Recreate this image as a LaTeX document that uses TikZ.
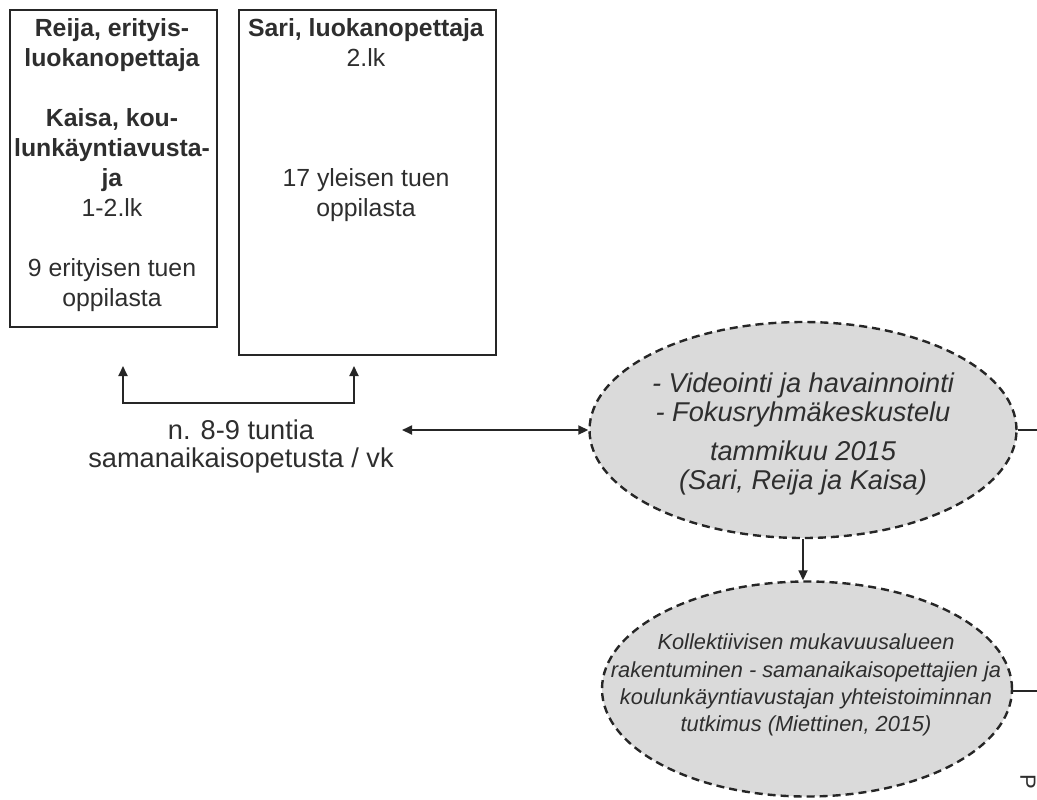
\documentclass[tikz,border=0pt]{standalone}
\usepackage{fontspec}
\setmainfont{Liberation Sans}
\usetikzlibrary{arrows.meta,shapes.geometric}
\definecolor{txt}{HTML}{2E2E2E}
\definecolor{ellfill}{HTML}{DADADA}
\begin{document}
\begin{tikzpicture}[x=0.5pt,y=-0.5pt,
  box/.style={draw=black!85, line width=1pt, inner sep=0pt},
  boxtxt/.style={align=center, inner sep=0pt, text=txt, font=\fontsize{12.4}{15}\selectfont},
  lbl/.style={align=center, inner sep=0pt, text=txt, font=\fontsize{13.6}{14}\selectfont},
  ell/.style={ellipse, draw=black!85, fill=ellfill, line width=1.2pt, dash pattern=on 4pt off 2.5pt, inner sep=0pt},
  elltxt/.style={align=center, inner sep=0pt, text=txt},
  conn/.style={draw=black!85, line width=0.9pt},
  tip/.style={-{Triangle[length=5pt,width=4.5pt]}},
  dtip/.style={{Triangle[length=5pt,width=4.5pt]}-{Triangle[length=5pt,width=4.5pt]}}
]
\useasboundingbox (0,0) rectangle (1037,799);

% boxes
\node[box, minimum width=103.5pt, minimum height=158.5pt, anchor=north west] (reija) at (9,9) {};
\node[box, minimum width=128.5pt, minimum height=172.5pt, anchor=north west] (sari) at (238,9) {};

\node[boxtxt, anchor=north] (reijat) at (112,18)
  {\textbf{Reija, erityis-}\\\textbf{luokanopettaja}\\[15pt]\textbf{Kaisa, kou-}\\\textbf{lunkäyntiavusta-}\\\textbf{ja}\\1-2.lk\\[15pt]9 erityisen tuen\\oppilasta};
\node[boxtxt, anchor=north] (sarit) at (366,18)
  {\textbf{Sari, luokanopettaja}\\2.lk\\[45pt]17 yleisen tuen\\oppilasta};

% bracket with arrows
\coordinate (blt) at (123,366);
\coordinate (bl) at (123,403);
\coordinate (br) at (354,403);
\coordinate (brt) at (354,366);
\draw[conn, dtip] (blt) -- (bl) -- (br) -- (brt);

\node[lbl] (hours) at (241,446) {n. 8-9 tuntia\\samanaikaisopetusta / vk};

% ellipses
\node[ell, minimum width=213.5pt, minimum height=108pt] (vid) at (803,430) {};
\node[elltxt, font=\fontsize{13.6}{14.8}\selectfont\itshape] (vidt) at (803,434)
  {- Videointi ja havainnointi\\- Fokusryhmäkeskustelu\\[4.5pt]tammikuu 2015\\(Sari, Reija ja Kaisa)};

\node[ell, minimum width=205pt, minimum height=107.5pt] (kol) at (807,689) {};
\node[elltxt, font=\fontsize{10.9}{13.6}\selectfont\itshape] (kolt) at (806,685)
  {Kollektiivisen mukavuusalueen\\rakentuminen - samanaikaisopettajien ja\\koulunkäyntiavustajan yhteistoiminnan\\tutkimus (Miettinen, 2015)};

% connectors
\coordinate (da) at (402,430);
\draw[conn, dtip] (da) -- (vid.west);
\draw[conn, tip] (vid.south) -- (vid.south |- kol.north);
\coordinate (e1) at (1040,430);
\coordinate (e2) at (1040,691);
\draw[conn] (vid.east) -- (e1);
\draw[conn] (kol.east |- e2) -- (e2);

% cut-off rotated text at the right edge
\node[rotate=-90, anchor=south west, inner sep=0pt, text=txt, font=\fontsize{11}{13}\selectfont] (pcut) at (1020,774) {P};
\end{tikzpicture}
\end{document}
